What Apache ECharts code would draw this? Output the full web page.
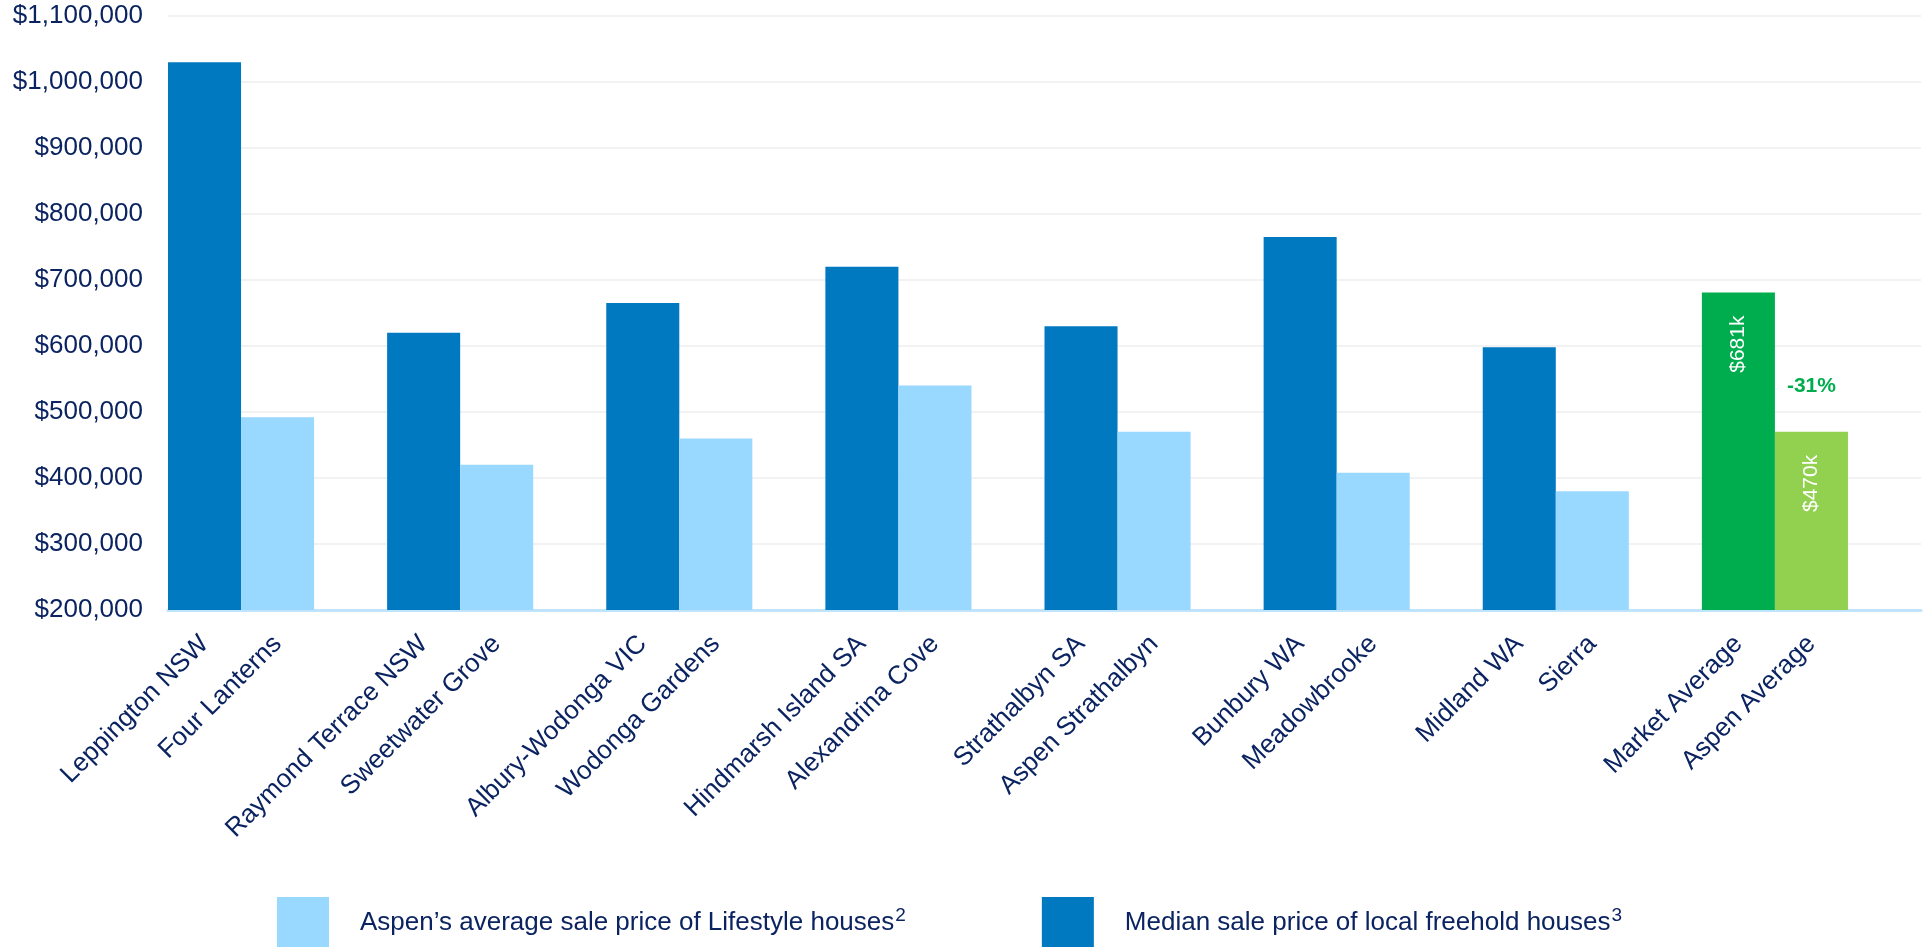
<!DOCTYPE html>
<html><head><meta charset="utf-8">
<script src="https://cdn.jsdelivr.net/npm/echarts@6/dist/echarts.min.js"></script>
<style>html,body{margin:0;padding:0;background:#fff}#c{width:1925px;height:947px}</style>
</head><body><div id="c"></div>
<script>
const localAreas = ['Leppington NSW','Raymond Terrace NSW','Albury-Wodonga VIC','Hindmarsh Island SA','Strathalbyn SA','Bunbury WA','Midland WA','Market Average'];
const aspenVillages = ['Four Lanterns','Sweetwater Grove','Wodonga Gardens','Alexandrina Cove','Aspen Strathalbyn','Meadowbrooke','Sierra','Aspen Average'];
const medianPrices = [1030000,620000,665000,720000,630000,765000,598000,681000];
const aspenPrices = [492000,420000,460000,540000,470000,408000,380000,470000];
const yMin = 200000, yMax = 1100000, yStep = 100000;
const legendNames = ['Aspen\u2019s average sale price of Lifestyle houses','Median sale price of local freehold houses'];
const legendNotes = ['2','3'];

const FONT = 'Liberation Sans, Arial, sans-serif';
const TEXT = '#0B2461';
const DARK = '#0079C1', LIGHT = '#99D8FF', GREEN = '#00AD4E', LGREEN = '#92D050';

const cats = [], darkData = [], lightData = [];
const last = localAreas.length - 1;
const avgLabel = (v) => ({show: true, position: 'insideTop', distance: 23, rotate: 90, align: 'right', verticalAlign: 'middle',
  color: '#fff', fontSize: 21, fontFamily: FONT, formatter: '$' + Math.round(v / 1000) + 'k'});
localAreas.forEach((name, i) => {
  cats.push(name, aspenVillages[i], ' '.repeat(i + 1));
  if (i === last) {
    darkData.push({value: medianPrices[i], itemStyle: {color: GREEN}, label: avgLabel(medianPrices[i])}, '-', '-');
    lightData.push('-', {value: aspenPrices[i], itemStyle: {color: LGREEN}, label: avgLabel(aspenPrices[i])}, '-');
  } else {
    darkData.push(medianPrices[i], '-', '-');
    lightData.push('-', aspenPrices[i], '-');
  }
});
const pct = Math.round((aspenPrices[last] - medianPrices[last]) / medianPrices[last] * 100);

const chart = echarts.init(document.getElementById('c'), null, {renderer: 'canvas'});
chart.setOption({
  animation: false,
  backgroundColor: '#fff',
  textStyle: {fontFamily: FONT},
  grid: {left: 168, right: 4, top: 16, bottom: 337, containLabel: false},
  legend: {
    data: [legendNames[0], legendNames[1]],
    left: 272, top: 892,
    icon: 'rect', itemWidth: 52, itemHeight: 52, itemGap: 136,
    formatter: (n) => '{t|' + n + '}{s|' + legendNotes[legendNames.indexOf(n)] + '}',
    textStyle: {
      color: TEXT, fontSize: 26, padding: [0, 0, 0, 26],
      rich: {t: {fontSize: 26, color: TEXT, fontFamily: FONT},
             s: {fontSize: 19, color: TEXT, padding: [0, 0, 14, 1], fontFamily: FONT}}
    }
  },
  xAxis: {
    type: 'category', data: cats,
    axisLine: {lineStyle: {color: '#BFE4FB', width: 3}},
    axisTick: {show: false},
    axisLabel: {interval: 0, rotate: 45, margin: 30, color: TEXT, fontSize: 26, fontFamily: FONT},
    splitLine: {show: false}
  },
  yAxis: {
    type: 'value', min: yMin, max: yMax, interval: yStep,
    axisLine: {show: false}, axisTick: {show: false},
    axisLabel: {margin: 25, color: TEXT, fontSize: 26, fontFamily: FONT, padding: [8, 0, 0, 0],
      formatter: (v) => '$' + v.toLocaleString('en-US')},
    splitLine: {lineStyle: {color: '#F2F2F2', width: 2}}
  },
  series: [
    {name: legendNames[1], type: 'bar', data: darkData, itemStyle: {color: DARK}, barCategoryGap: '0%', barGap: '-100%'},
    {name: legendNames[0], type: 'bar', data: lightData, itemStyle: {color: LIGHT}, barCategoryGap: '0%', barGap: '-100%',
      markPoint: {
        symbol: 'rect', symbolSize: 1, itemStyle: {color: 'rgba(0,0,0,0)'},
        data: [{coord: [3 * last + 1, aspenPrices[last]],
          label: {show: true, position: 'inside', offset: [0, -46], formatter: pct + '%', color: GREEN,
            fontSize: 21, fontWeight: 'bold', fontFamily: FONT}}]
      }}
  ]
});
</script></body></html>
